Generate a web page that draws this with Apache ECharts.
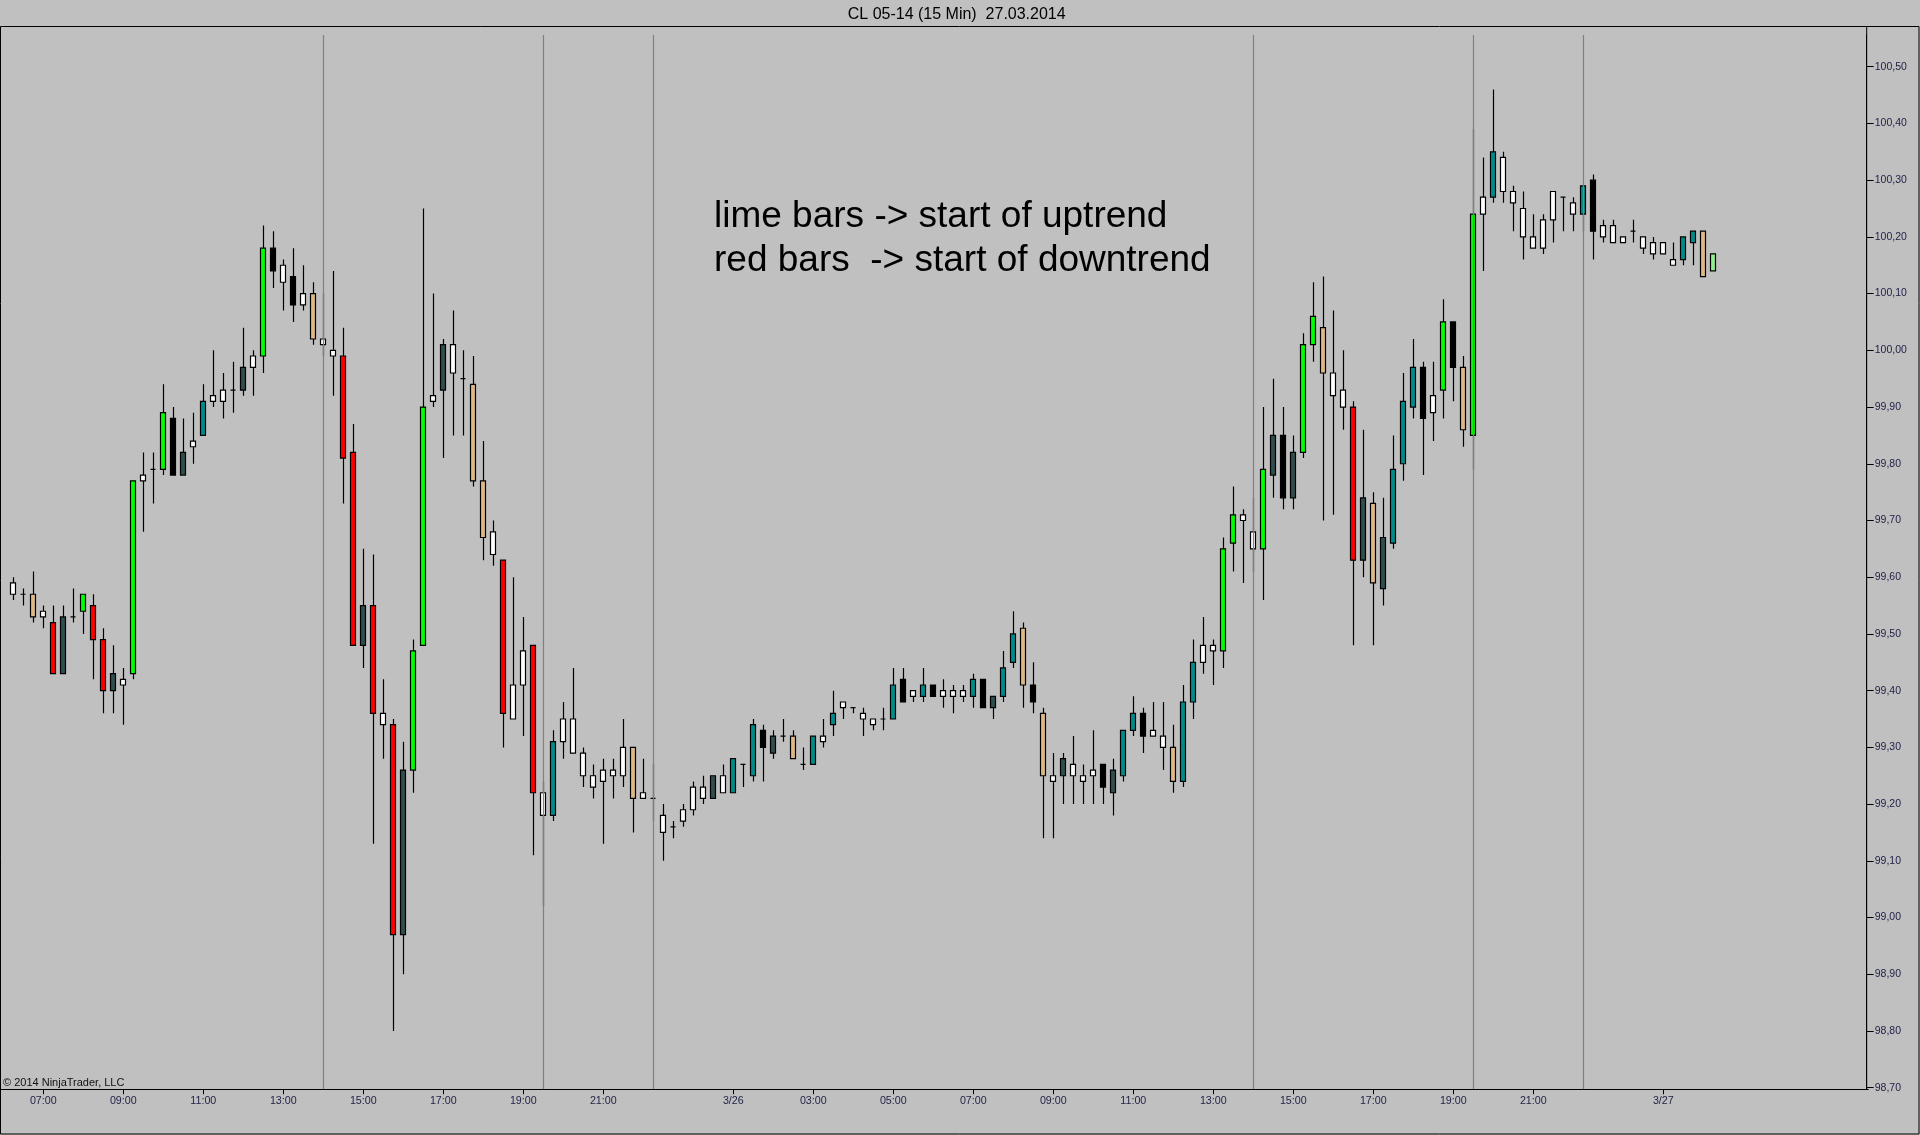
<!DOCTYPE html>
<html>
<head>
<meta charset="utf-8">
<script src="https://cdn.jsdelivr.net/npm/echarts@6/dist/echarts.min.js"></script>
<style>
html,body{margin:0;padding:0;background:#c0c0c0;overflow:hidden;}
#main{width:1920px;height:1135px;}
</style>
</head>
<body>
<div id="main"></div>
<script>
// ---------- categories (15 min bars, CET) ----------
const hours07to21 = "07:00 07:15 07:30 07:45 08:00 08:15 08:30 08:45 09:00 09:15 09:30 09:45 10:00 10:15 10:30 10:45 11:00 11:15 11:30 11:45 12:00 12:15 12:30 12:45 13:00 13:15 13:30 13:45 14:00 14:15 14:30 14:45 15:00 15:15 15:30 15:45 16:00 16:15 16:30 16:45 17:00 17:15 17:30 17:45 18:00 18:15 18:30 18:45 19:00 19:15 19:30 19:45 20:00 20:15 20:30 20:45 21:00 21:15 21:30 21:45";
const hours02to06 = "02:00 02:15 02:30 02:45 03:00 03:15 03:30 03:45 04:00 04:15 04:30 04:45 05:00 05:15 05:30 05:45 06:00 06:15 06:30 06:45";
const day1 = "06:15 06:30 06:45 " + hours07to21 + " 22:00 22:15";
const day2 = "23:15 23:30 23:45 00:00 00:15 00:30 00:45 3/26 01:15 01:30 01:45 " + hours02to06 + " " + hours07to21 + " 22:00 22:15";
const day3 = "23:15 23:30 23:45 00:00 00:15 00:30 00:45 3/27 01:15 01:30 01:45 02:00 02:15 02:30 02:45 03:00 03:15 03:30 03:45 04:00 04:15 04:30 04:45 05:00 05:15 05:30 05:45 06:00";
const categories = (day1 + " " + day2 + " " + day3).split(" ");

// ---------- OHLC series ----------
const openP = [
99.57,99.57,99.57,99.53,99.52,99.43,99.53,99.54,99.55,99.49,
99.40,99.41,99.43,99.77,99.79,99.79,99.88,99.78,99.83,99.85,
99.91,99.91,99.93,99.93,99.97,99.99,100.18,100.12,100.13,100.08,
100.10,100.01,99.99,99.99,99.82,99.48,99.55,99.34,99.34,98.97,
99.26,99.48,99.91,99.93,99.96,99.95,99.94,99.77,99.64,99.63,
99.35,99.41,99.48,99.18,99.18,99.31,99.29,99.25,99.23,99.24,
99.25,99.25,99.30,99.21,99.21,99.15,99.16,99.17,99.19,99.21,
99.21,99.22,99.22,99.27,99.25,99.33,99.29,99.32,99.32,99.27,
99.27,99.31,99.34,99.37,99.37,99.35,99.34,99.35,99.35,99.42,
99.39,99.39,99.41,99.39,99.39,99.39,99.39,99.42,99.37,99.39,
99.45,99.51,99.41,99.36,99.24,99.25,99.25,99.24,99.25,99.27,
99.22,99.25,99.33,99.36,99.32,99.30,99.30,99.24,99.38,99.45,
99.47,99.47,99.66,99.70,99.65,99.65,99.78,99.85,99.74,99.82,
100.01,100.04,99.92,99.90,99.90,99.63,99.73,99.58,99.66,99.80,
99.90,99.97,99.89,99.93,100.05,99.97,99.85,100.24,100.27,100.28,
100.26,100.20,100.18,100.18,100.23,100.27,100.24,100.24,100.30,100.20,
100.19,100.19,100.21,100.18,100.17,100.17,100.15,100.16,100.19,100.21,
100.14];
const highP = [
99.60,99.58,99.61,99.55,99.55,99.55,99.58,99.57,99.57,99.51,
99.48,99.44,99.77,99.82,99.82,99.94,99.90,99.88,99.89,99.94,
100.00,99.96,99.98,100.04,100.00,100.22,100.21,100.16,100.18,100.15,
100.12,100.10,100.14,100.04,99.87,99.65,99.64,99.42,99.35,99.31,
99.49,100.25,100.10,100.02,100.07,100.00,99.99,99.84,99.70,99.63,
99.60,99.53,99.48,99.24,99.33,99.38,99.44,99.30,99.27,99.28,
99.28,99.35,99.30,99.28,99.27,99.20,99.17,99.20,99.24,99.25,
99.25,99.27,99.28,99.27,99.35,99.34,99.33,99.35,99.33,99.30,
99.32,99.35,99.40,99.38,99.37,99.37,99.35,99.37,99.44,99.44,
99.40,99.44,99.41,99.42,99.41,99.41,99.43,99.42,99.39,99.47,
99.54,99.52,99.45,99.37,99.29,99.29,99.32,99.27,99.33,99.27,
99.28,99.33,99.39,99.37,99.38,99.38,99.34,99.41,99.49,99.53,
99.49,99.67,99.76,99.72,99.74,99.90,99.95,99.90,99.85,100.03,
100.12,100.13,100.07,100.00,99.91,99.86,99.75,99.74,99.85,99.96,
100.02,99.98,99.98,100.09,100.05,99.99,100.39,100.34,100.46,100.35,
100.29,100.28,100.24,100.24,100.28,100.27,100.27,100.29,100.31,100.23,
100.23,100.20,100.23,100.20,100.20,100.19,100.19,100.20,100.21,100.21,
100.17];
const lowP = [
99.56,99.55,99.52,99.51,99.43,99.43,99.52,99.50,99.42,99.36,
99.36,99.34,99.42,99.68,99.73,99.78,99.78,99.78,99.80,99.85,
99.90,99.88,99.89,99.92,99.92,99.96,100.11,100.07,100.05,100.07,
100.01,99.99,99.92,99.73,99.48,99.44,99.13,99.28,98.80,98.90,
99.22,99.48,99.90,99.81,99.85,99.85,99.76,99.63,99.62,99.30,
99.35,99.32,99.11,99.02,99.17,99.28,99.29,99.23,99.21,99.13,
99.21,99.23,99.15,99.21,99.17,99.10,99.14,99.16,99.18,99.20,
99.21,99.22,99.22,99.23,99.24,99.24,99.28,99.31,99.28,99.26,
99.27,99.30,99.32,99.35,99.36,99.32,99.33,99.33,99.35,99.38,
99.38,99.38,99.39,99.37,99.36,99.38,99.37,99.37,99.35,99.38,
99.44,99.37,99.36,99.14,99.14,99.20,99.20,99.20,99.20,99.20,
99.18,99.24,99.32,99.29,99.32,99.26,99.22,99.23,99.35,99.43,
99.41,99.44,99.61,99.59,99.61,99.56,99.74,99.72,99.72,99.81,
99.98,99.70,99.71,99.86,99.48,99.60,99.48,99.55,99.65,99.77,
99.88,99.78,99.84,99.88,99.91,99.83,99.79,100.14,100.26,100.26,
100.21,100.16,100.18,100.17,100.19,100.21,100.21,100.21,100.16,100.19,
100.19,100.19,100.19,100.17,100.16,100.17,100.15,100.15,100.15,100.13,
100.14];
const closeP = [
99.59,99.57,99.53,99.54,99.43,99.53,99.53,99.57,99.49,99.40,
99.43,99.42,99.77,99.78,99.79,99.89,99.78,99.82,99.84,99.91,
99.92,99.93,99.93,99.97,99.99,100.18,100.14,100.15,100.08,100.10,
100.02,100.02,100.00,99.81,99.48,99.55,99.36,99.36,98.97,99.26,
99.47,99.90,99.92,100.01,100.01,99.95,99.77,99.67,99.68,99.36,
99.41,99.47,99.22,99.22,99.31,99.35,99.35,99.29,99.25,99.26,
99.26,99.30,99.21,99.22,99.21,99.18,99.16,99.19,99.23,99.23,
99.25,99.25,99.28,99.27,99.34,99.30,99.32,99.32,99.28,99.27,
99.32,99.32,99.36,99.38,99.37,99.36,99.35,99.35,99.41,99.38,
99.40,99.41,99.39,99.40,99.40,99.40,99.42,99.37,99.39,99.44,
99.50,99.41,99.38,99.25,99.25,99.28,99.27,99.25,99.26,99.23,
99.26,99.33,99.36,99.32,99.33,99.32,99.24,99.38,99.45,99.48,
99.48,99.65,99.71,99.71,99.68,99.79,99.85,99.74,99.82,100.01,
100.06,99.96,99.96,99.93,99.63,99.74,99.59,99.67,99.79,99.91,
99.97,99.88,99.92,100.05,99.97,99.86,100.24,100.27,100.35,100.34,
100.28,100.25,100.20,100.23,100.28,100.27,100.26,100.29,100.21,100.22,
100.22,100.20,100.21,100.20,100.19,100.19,100.16,100.20,100.21,100.13,
100.17];
// trend state of each bar: L lime (start uptrend), R red (start downtrend),
// W white, K black, T teal, N tan, S dark slate, G current bar
const barState = (
"WWNWRSWLRR" + "SWLWWLKSWT" + "WWWSWLKWKW" + "NWWRRSRWRS" + "LLWSWWNNWR" +
"WWRWTWWWWW" + "WWNWWWWWWW" + "SWTWTKSWNW" + "TWTWWWWWTK" + "WTKWWWTKST" +
"TNKNWSWWWK" + "STTKWWNTTW" + "WLLWWLSKSL" + "LNWWRSNSTT" + "TKWLKNLWTW" +
"WWWWWWWTKW" + "WWWWWWWTTN" + "G").split("");

// vertical session lines (category indices: 14:00, 19:30, 22:15 ...)
const sessionLineIdx = [31, 53, 64, 124, 146, 157];
// price axis tick labels
const yTicks = [98.7,98.8,98.9,99.0,99.1,99.2,99.3,99.4,99.5,99.6,99.7,99.8,99.9,100.0,100.1,100.2,100.3,100.4,100.5];

const titleText = "CL 05-14 (15 Min)  27.03.2014";
const noteLines = ["lime bars -> start of uptrend", "red bars  -> start of downtrend"];
const copyrightText = "\u00A9 2014 NinjaTrader, LLC";

// ---------- styles ----------
const FONT = "'Liberation Sans', Arial, Helvetica, sans-serif";
const stateColors = {L:'#00ff00', R:'#ff0000', W:'#ffffff', K:'#000000', T:'#008b8b', N:'#deb887', S:'#2f4f4f', G:'#90ee90'};
const AXIS_TXT = '#1e1e46';
const LAST = closeP.length - 1;
const fmt = v => Number(v).toFixed(2).replace('.', ',');

const candleData = openP.map((o, i) => {
  const c = stateColors[barState[i]];
  return {
    value: [o, closeP[i], lowP[i], highP[i]],
    itemStyle: {color: c, color0: c, borderColor: '#000', borderColor0: '#000', borderColorDoji: '#000'}
  };
});

const showTick = (idx, name) => {
  if (idx > LAST) return false;
  if (String(name).indexOf('/') >= 0) return true;
  const m = /^(\d\d):00$/.exec(name);
  return !!m && parseInt(m[1], 10) % 2 === 1;
};

const markData = sessionLineIdx.map(i => ({
  xAxis: i,
  lineStyle: {color: '#808080', width: 1.2, type: 'solid'},
  label: {show: false}
}));
markData.push({
  yAxis: closeP[LAST],
  lineStyle: {opacity: 0, width: 0},
  label: {
    show: true, position: 'end', distance: 3,
    formatter: () => fmt(closeP[LAST]),
    color: '#ffffff', backgroundColor: '#000000',
    fontFamily: FONT, fontSize: 10.5, lineHeight: 12, padding: [0, 3, 0, 3]
  }
});

const chart = echarts.init(document.getElementById('main'), null, {renderer: 'canvas'});
chart.setOption({
  animation: false,
  backgroundColor: '#c0c0c0',
  grid: {left: 8.3, top: 35, width: 1860, height: 1054.3, containLabel: false, outerBoundsMode: 'none'},
  xAxis: {
    type: 'category',
    data: categories,
    boundaryGap: true,
    axisLine: {show: true, lineStyle: {color: '#000', width: 1}},
    axisTick: {show: true, alignWithLabel: true, interval: showTick, length: 5, lineStyle: {color: '#000', width: 1}},
    axisLabel: {interval: showTick, margin: 6, fontSize: 10.7, color: AXIS_TXT, fontFamily: FONT, hideOverlap: false},
    splitLine: {show: false}
  },
  yAxis: {
    type: 'value',
    position: 'right',
    min: 98.6972,
    max: 100.5559,
    offset: -1.6,
    scale: true,
    axisLine: {show: true, lineStyle: {color: '#000', width: 1}},
    axisTick: {show: true, length: 7, customValues: yTicks, lineStyle: {color: '#000', width: 1}},
    axisLabel: {customValues: yTicks, formatter: v => fmt(v), margin: 8, fontSize: 10.5, color: AXIS_TXT, fontFamily: FONT},
    splitLine: {show: false}
  },
  series: [{
    type: 'candlestick',
    data: candleData,
    barWidth: 5.6,
    itemStyle: {borderWidth: 1.2},
    markLine: {silent: true, symbol: ['none', 'none'], animation: false, data: markData}
  }],
  graphic: [
    {type: 'rect', z: 100, silent: true, shape: {x: 0.5, y: 26.5, width: 1918.5, height: 1107.5},
     style: {fill: 'none', stroke: '#000', lineWidth: 1}},
    {type: 'line', z: 100, silent: true, shape: {x1: 0.5, y1: 1089.5, x2: 1866.7, y2: 1089.5},
     style: {stroke: '#000', lineWidth: 1}},
    {type: 'line', z: 100, silent: true, shape: {x1: 1866.7, y1: 26.5, x2: 1866.7, y2: 1089.5},
     style: {stroke: '#000', lineWidth: 1}},
    {type: 'text', z: 100, silent: true, x: 956.7, y: 14.2,
     style: {text: titleText, fontSize: 16, fontFamily: FONT, fill: '#000', align: 'center', verticalAlign: 'middle', textAlign: 'center', textVerticalAlign: 'middle'}},
    {type: 'text', z: 100, silent: true, x: 714, y: 216.5,
     style: {text: noteLines[0], fontSize: 37, fontFamily: FONT, fill: '#000', align: 'left', verticalAlign: 'middle', textAlign: 'left', textVerticalAlign: 'middle'}},
    {type: 'text', z: 100, silent: true, x: 714, y: 260.5,
     style: {text: noteLines[1], fontSize: 37, fontFamily: FONT, fill: '#000', align: 'left', verticalAlign: 'middle', textAlign: 'left', textVerticalAlign: 'middle'}},
    {type: 'text', z: 100, silent: true, x: 3, y: 1083,
     style: {text: copyrightText, fontSize: 11, fontFamily: FONT, fill: '#111', align: 'left', verticalAlign: 'middle', textAlign: 'left', textVerticalAlign: 'middle'}}
  ]
});
</script>
</body>
</html>
